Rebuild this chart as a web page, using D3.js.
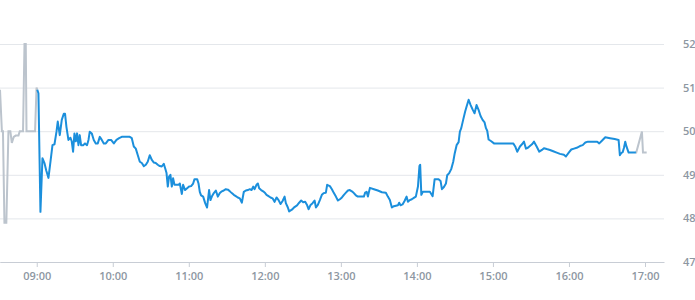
<!DOCTYPE html>
<html lang="de">
<head>
<meta charset="UTF-8">
<script src="https://d3js.org/d3.v7.min.js"></script>
<style>
body{
	margin: 0;
	background-color: white;
	font-family: "Open Sans", sans-serif;
}

.axisTime text, .axisPrice text{
	fill: #8d97a2;
	font-size: 11px;
	font-weight: 600;
	font-family: "Open Sans", sans-serif;
}

.axisTime path, .axisTime line{
	stroke: #c8cdd5;
}

.axisPrice line{
	stroke: #e4e7eb;
}
</style>
</head>
<body>
<svg width="695" height="300"></svg>

<script>
// vorboerslich (grau)
const preMarket = [
	["08:31:00", 50.95], ["08:32:30", 50.0], ["08:33:20", 50.0], ["08:34:30", 47.9],
	["08:36:00", 47.9], ["08:37:40", 50.0], ["08:39:10", 50.0], ["08:40:20", 49.73],
	["08:41:50", 49.87], ["08:43:25", 49.9], ["08:45:35", 49.9], ["08:46:35", 50.0],
	["08:49:10", 50.0], ["08:50:20", 52.0], ["08:51:20", 52.0], ["08:51:55", 50.0],
	["08:58:40", 50.0], ["08:59:50", 51.0], ["09:00:25", 50.95]
]

// Handelszeit (blau)
const session = [
	["09:00:25", 50.95], ["09:01:20", 50.87], ["09:02:55", 48.15], ["09:04:30", 49.38],
	["09:06:05", 49.27], ["09:07:30", 49.1], ["09:09:15", 48.93], ["09:10:50", 49.3],
	["09:12:25", 49.68], ["09:14:00", 49.7], ["09:15:35", 49.99], ["09:16:35", 50.22],
	["09:18:10", 49.91], ["09:19:45", 50.26], ["09:21:20", 50.4], ["09:22:20", 50.4],
	["09:23:25", 50.1], ["09:25:00", 49.8], ["09:26:35", 49.85], ["09:27:35", 49.77],
	["09:28:40", 49.53], ["09:29:45", 49.95], ["09:30:50", 49.77], ["09:31:50", 49.95],
	["09:32:55", 49.68], ["09:33:55", 49.91], ["09:35:00", 49.68], ["09:36:35", 49.68],
	["09:38:05", 49.72], ["09:39:40", 49.68], ["09:40:50", 49.8], ["09:41:50", 49.99],
	["09:43:25", 49.95], ["09:45:00", 49.8], ["09:46:35", 49.72], ["09:48:10", 49.72],
	["09:49:45", 49.87], ["09:51:20", 49.8], ["09:52:55", 49.72], ["09:54:30", 49.72],
	["09:56:35", 49.8], ["09:58:40", 49.8], ["10:00:50", 49.72], ["10:02:55", 49.8],
	["10:05:00", 49.84], ["10:07:05", 49.87], ["10:10:15", 49.87], ["10:13:25", 49.87],
	["10:15:00", 49.84], ["10:16:35", 49.65], ["10:18:10", 49.6], ["10:19:45", 49.45],
	["10:21:20", 49.3], ["10:22:55", 49.27], ["10:24:30", 49.2], ["10:26:05", 49.23],
	["10:27:35", 49.3], ["10:29:10", 49.45], ["10:30:50", 49.34], ["10:32:25", 49.28],
	["10:33:55", 49.27], ["10:35:30", 49.23], ["10:37:05", 49.2], ["10:38:40", 49.19],
	["10:40:15", 49.25], ["10:41:20", 49.15], ["10:42:25", 49.04], ["10:43:25", 48.73],
	["10:44:25", 48.96], ["10:45:30", 49.0], ["10:46:35", 48.73], ["10:47:35", 48.92],
	["10:48:40", 48.77], ["10:50:20", 48.77], ["10:51:55", 48.77], ["10:52:55", 48.8],
	["10:54:30", 48.56], ["10:55:30", 48.77], ["10:57:05", 48.65], ["10:58:40", 48.69],
	["11:00:15", 48.73], ["11:01:50", 48.74], ["11:03:25", 48.8], ["11:04:30", 48.9],
	["11:06:35", 48.9], ["11:07:40", 48.8], ["11:08:40", 48.61], ["11:09:40", 48.53],
	["11:11:20", 48.5], ["11:12:55", 48.35], ["11:14:25", 48.25], ["11:16:00", 48.65],
	["11:17:05", 48.42], ["11:18:10", 48.5], ["11:19:45", 48.58], ["11:21:20", 48.64],
	["11:22:55", 48.5], ["11:24:30", 48.58], ["11:26:05", 48.62], ["11:27:35", 48.64],
	["11:29:10", 48.67], ["11:30:50", 48.66], ["11:32:25", 48.62], ["11:33:55", 48.58],
	["11:35:30", 48.54], ["11:37:05", 48.51], ["11:38:40", 48.48], ["11:40:15", 48.46],
	["11:41:50", 48.36], ["11:43:25", 48.61], ["11:45:00", 48.64], ["11:46:35", 48.65],
	["11:48:10", 48.67], ["11:49:30", 48.65], ["11:50:50", 48.73], ["11:51:55", 48.67],
	["11:53:25", 48.77], ["11:54:30", 48.8], ["11:55:30", 48.69], ["11:57:05", 48.65],
	["11:58:40", 48.62], ["12:00:15", 48.58], ["12:01:20", 48.54], ["12:02:55", 48.51],
	["12:04:30", 48.48], ["12:06:05", 48.46], ["12:07:40", 48.38], ["12:09:15", 48.48],
	["12:10:50", 48.42], ["12:12:25", 48.33], ["12:14:00", 48.4], ["12:15:35", 48.5],
	["12:16:35", 48.35], ["12:18:10", 48.25], ["12:19:10", 48.16], ["12:21:20", 48.2],
	["12:23:25", 48.26], ["12:25:25", 48.3], ["12:27:05", 48.36], ["12:28:40", 48.41],
	["12:30:15", 48.37], ["12:31:50", 48.38], ["12:33:25", 48.3], ["12:34:30", 48.21],
	["12:36:05", 48.31], ["12:37:40", 48.35], ["12:39:15", 48.41], ["12:40:20", 48.25],
	["12:41:50", 48.31], ["12:43:25", 48.42], ["12:45:00", 48.54], ["12:46:35", 48.58],
	["12:48:10", 48.59], ["12:49:10", 48.77], ["12:51:20", 48.74], ["12:52:55", 48.67],
	["12:54:30", 48.58], ["12:56:05", 48.5], ["12:57:40", 48.41], ["12:59:15", 48.44],
	["13:00:50", 48.48], ["13:02:25", 48.54], ["13:04:00", 48.59], ["13:05:35", 48.64],
	["13:07:05", 48.65], ["13:08:40", 48.62], ["13:10:15", 48.58], ["13:11:50", 48.53],
	["13:13:25", 48.5], ["13:18:10", 48.5], ["13:19:10", 48.59], ["13:20:20", 48.61],
	["13:21:20", 48.5], ["13:22:55", 48.7], ["13:26:05", 48.67], ["13:29:10", 48.64],
	["13:32:25", 48.6], ["13:35:30", 48.59], ["13:37:05", 48.5], ["13:38:40", 48.42],
	["13:40:15", 48.25], ["13:41:50", 48.28], ["13:43:25", 48.29], ["13:45:00", 48.3],
	["13:46:00", 48.36], ["13:47:05", 48.3], ["13:48:40", 48.32], ["13:50:15", 48.4],
	["13:51:50", 48.5], ["13:52:55", 48.38], ["13:54:25", 48.42], ["13:56:00", 48.44],
	["13:57:35", 48.47], ["13:59:10", 48.5], ["14:00:50", 48.73], ["14:02:00", 49.2],
	["14:02:35", 49.23], ["14:03:30", 48.54], ["14:04:40", 48.61], ["14:10:15", 48.61],
	["14:12:25", 48.51], ["14:14:00", 48.9], ["14:17:05", 48.9], ["14:18:40", 48.86],
	["14:19:45", 48.67], ["14:21:20", 48.72], ["14:22:55", 48.8], ["14:23:55", 48.99],
	["14:25:30", 49.04], ["14:27:05", 49.13], ["14:28:40", 49.3], ["14:29:50", 49.49],
	["14:31:20", 49.68], ["14:32:55", 49.75], ["14:33:55", 49.99], ["14:35:00", 50.07],
	["14:36:30", 50.26], ["14:38:05", 50.45], ["14:39:10", 50.56], ["14:40:50", 50.72],
	["14:42:25", 50.6], ["14:43:55", 50.5], ["14:45:30", 50.41], ["14:47:05", 50.6],
	["14:48:40", 50.49], ["14:50:15", 50.35], ["14:51:50", 50.26], ["14:53:25", 50.2],
	["14:54:30", 50.07], ["14:55:30", 50.01], ["14:56:35", 49.81], ["14:58:40", 49.77],
	["15:00:50", 49.72], ["15:16:00", 49.72], ["15:17:35", 49.65], ["15:19:10", 49.53],
	["15:21:20", 49.65], ["15:22:55", 49.7], ["15:24:30", 49.76], ["15:26:05", 49.6],
	["15:27:35", 49.62], ["15:29:10", 49.66], ["15:30:50", 49.7], ["15:32:25", 49.76],
	["15:34:30", 49.65], ["15:36:35", 49.53], ["15:38:40", 49.57], ["15:40:15", 49.61],
	["15:42:25", 49.59], ["15:45:00", 49.57], ["15:47:35", 49.54], ["15:50:20", 49.51],
	["15:52:55", 49.48], ["15:56:00", 49.46], ["15:57:35", 49.42], ["15:59:50", 49.51],
	["16:01:50", 49.58], ["16:04:00", 49.6], ["16:06:05", 49.62], ["16:08:40", 49.66],
	["16:10:50", 49.68], ["16:12:55", 49.74], ["16:15:00", 49.76], ["16:22:20", 49.76],
	["16:23:55", 49.72], ["16:26:00", 49.78], ["16:28:40", 49.86], ["16:32:25", 49.84],
	["16:36:05", 49.82], ["16:39:10", 49.8], ["16:40:10", 49.45], ["16:41:20", 49.5],
	["16:42:25", 49.52], ["16:43:25", 49.62], ["16:44:25", 49.76], ["16:45:30", 49.64],
	["16:47:05", 49.51], ["16:52:50", 49.51]
]

// nachboerslich (grau)
const postMarket = [
	["16:52:50", 49.51], ["16:53:05", 49.51], ["16:57:35", 49.99], ["16:58:25", 49.51],
	["17:01:20", 49.51]
]

const timeDomain = ["08:31:00", "17:15:00"]
const priceTicks = [47, 48, 49, 50, 51, 52]

const parseTime = d3.timeParse("%H:%M:%S")

const svg = d3.select("svg")

const plotWidth = 664

var timelineScale = d3.scaleTime()
	.domain(timeDomain.map(parseTime))
	.range([0, plotWidth])

var priceScale = d3.scaleLinear()
	.domain([47, 52])
	.range([262, 44])

// gridlines + labels rechts
svg.append("g")
	.attr("class", "axisPrice")
	.attr("transform", "translate(" + plotWidth + ",0)")
	.call(d3.axisRight(priceScale).tickValues(priceTicks).tickSize(-plotWidth).tickPadding(19).tickFormat(d3.format("d")))
	.call(g => g.select(".domain").remove())

svg.append("g")
	.attr("class", "axisTime")
	.attr("transform", "translate(0,262)")
	.call(d3.axisBottom(timelineScale).ticks(d3.timeHour.every(1)).tickFormat(d3.timeFormat("%H:%M")).tickSize(5).tickSizeOuter(0).tickPadding(5))

var line = d3.line()
	.x(function(d){return timelineScale(parseTime(d[0]))})
	.y(function(d){return priceScale(d[1])})

svg.append("path")
	.datum(preMarket)
	.attr("d", line)
	.style("fill", "none")
	.style("stroke", "#bcc4cd")
	.style("stroke-width", 2)

svg.append("path")
	.datum(postMarket)
	.attr("d", line)
	.style("fill", "none")
	.style("stroke", "#bcc4cd")
	.style("stroke-width", 2)

svg.append("path")
	.datum(session)
	.attr("d", line)
	.style("fill", "none")
	.style("stroke", "#1b8fdc")
	.style("stroke-width", 2)
	.style("stroke-linejoin", "round")
</script>
</body>
</html>
